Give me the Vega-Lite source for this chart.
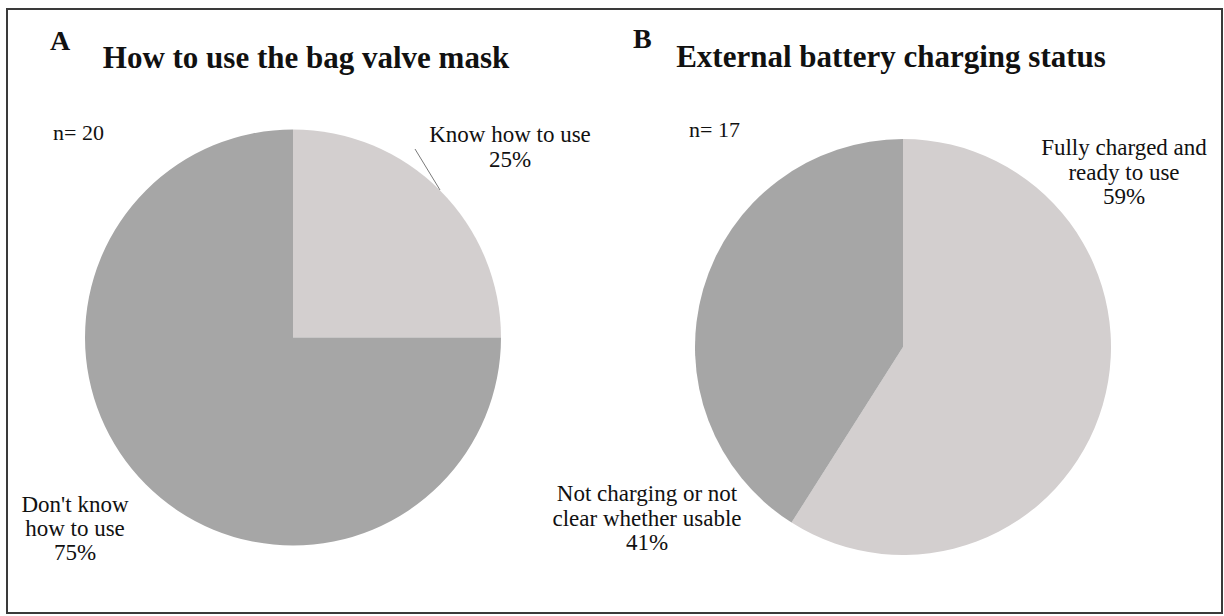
{
  "$schema": "https://vega.github.io/schema/vega-lite/v6.json",
  "width": 1224,
  "height": 616,
  "autosize": {"type": "fit", "contains": "padding"},
  "padding": {"left": 7, "top": 9, "right": 2, "bottom": 3},
  "background": "white",
  "config": {
    "view": {"stroke": "#3a3a3a", "strokeWidth": 2},
    "text": {"font": "Liberation Serif", "color": "#111111", "baseline": "alphabetic"}
  },
  "layer": [
    {
      "data": {"values": [
        {"panel": "A", "category": "Know how to use", "pct": 25, "ord": 1},
        {"panel": "A", "category": "Don't know how to use", "pct": 75, "ord": 2},
        {"panel": "B", "category": "Fully charged and ready to use", "pct": 59, "ord": 1},
        {"panel": "B", "category": "Not charging or not clear whether usable", "pct": 41, "ord": 2}
      ]},
      "transform": [
        {"stack": "pct", "groupby": ["panel"], "sort": [{"field": "ord", "order": "ascending"}], "as": ["t0", "t1"]}
      ],
      "mark": {"type": "arc", "radius": 208, "stroke": null},
      "encoding": {
        "x": {"field": "panel", "type": "nominal", "axis": null, "scale": {"type": "point", "domain": ["A", "B"], "range": [286, 896], "padding": 0}},
        "y": {"field": "panel", "type": "nominal", "axis": null, "scale": {"type": "point", "domain": ["A", "B"], "range": [328.5, 338], "padding": 0}},
        "theta": {"field": "t0", "type": "quantitative", "scale": {"domain": [0, 100]}},
        "theta2": {"field": "t1"},
        "color": {
          "field": "category", "type": "nominal", "legend": null,
          "scale": {
            "domain": ["Know how to use", "Don't know how to use", "Fully charged and ready to use", "Not charging or not clear whether usable"],
            "range": ["#d3cfcf", "#a6a6a6", "#d3cfcf", "#a6a6a6"]
          }
        }
      }
    },
    {
      "data": {"values": [{"panel": "A"}]},
      "mark": {"type": "rule", "color": "#7a7a7a", "strokeWidth": 1, "xOffset": 122, "yOffset": -188.5, "x2Offset": 147, "y2Offset": -147.5},
      "encoding": {
        "x": {"field": "panel", "type": "nominal", "axis": null},
        "y": {"field": "panel", "type": "nominal", "axis": null},
        "x2": {"field": "panel"},
        "y2": {"field": "panel"}
      }
    },
    {
      "data": {"values": [{"panel": "A", "label": "A"}]},
      "mark": {"type": "text", "align": "left", "fontWeight": "bold", "fontSize": 28, "dx": -243, "dy": -287.5},
      "encoding": {"x": {"field": "panel", "type": "nominal", "axis": null}, "y": {"field": "panel", "type": "nominal", "axis": null}, "text": {"field": "label"}}
    },
    {
      "data": {"values": [{"panel": "B", "label": "B"}]},
      "mark": {"type": "text", "align": "left", "fontWeight": "bold", "fontSize": 28, "dx": -270, "dy": -299},
      "encoding": {"x": {"field": "panel", "type": "nominal", "axis": null}, "y": {"field": "panel", "type": "nominal", "axis": null}, "text": {"field": "label"}}
    },
    {
      "data": {"values": [{"panel": "A", "label": "How to use the bag valve mask"}]},
      "mark": {"type": "text", "align": "center", "fontWeight": "bold", "fontSize": 31, "dx": 13, "dy": -269.5},
      "encoding": {"x": {"field": "panel", "type": "nominal", "axis": null}, "y": {"field": "panel", "type": "nominal", "axis": null}, "text": {"field": "label"}}
    },
    {
      "data": {"values": [{"panel": "B", "label": "External battery charging status"}]},
      "mark": {"type": "text", "align": "center", "fontWeight": "bold", "fontSize": 31, "dx": -12, "dy": -280},
      "encoding": {"x": {"field": "panel", "type": "nominal", "axis": null}, "y": {"field": "panel", "type": "nominal", "axis": null}, "text": {"field": "label"}}
    },
    {
      "data": {"values": [{"panel": "A", "label": "n= 20"}]},
      "mark": {"type": "text", "align": "left", "fontSize": 22, "dx": -240, "dy": -197.5},
      "encoding": {"x": {"field": "panel", "type": "nominal", "axis": null}, "y": {"field": "panel", "type": "nominal", "axis": null}, "text": {"field": "label"}}
    },
    {
      "data": {"values": [{"panel": "B", "label": "n= 17"}]},
      "mark": {"type": "text", "align": "left", "fontSize": 22, "dx": -214, "dy": -210},
      "encoding": {"x": {"field": "panel", "type": "nominal", "axis": null}, "y": {"field": "panel", "type": "nominal", "axis": null}, "text": {"field": "label"}}
    },
    {
      "data": {"values": [{"panel": "A", "label": ["Know how to use", "25%"]}]},
      "mark": {"type": "text", "align": "center", "fontSize": 23, "lineHeight": 25, "dx": 217, "dy": -195.5},
      "encoding": {"x": {"field": "panel", "type": "nominal", "axis": null}, "y": {"field": "panel", "type": "nominal", "axis": null}, "text": {"field": "label"}}
    },
    {
      "data": {"values": [{"panel": "A", "label": ["Don't know", "how to use", "75%"]}]},
      "mark": {"type": "text", "align": "center", "fontSize": 23, "lineHeight": 24, "dx": -218, "dy": 174},
      "encoding": {"x": {"field": "panel", "type": "nominal", "axis": null}, "y": {"field": "panel", "type": "nominal", "axis": null}, "text": {"field": "label"}}
    },
    {
      "data": {"values": [{"panel": "B", "label": ["Fully charged and", "ready to use", "59%"]}]},
      "mark": {"type": "text", "align": "center", "fontSize": 23, "lineHeight": 24.5, "dx": 221, "dy": -192},
      "encoding": {"x": {"field": "panel", "type": "nominal", "axis": null}, "y": {"field": "panel", "type": "nominal", "axis": null}, "text": {"field": "label"}}
    },
    {
      "data": {"values": [{"panel": "B", "label": ["Not charging or not", "clear whether usable", "41%"]}]},
      "mark": {"type": "text", "align": "center", "fontSize": 23, "lineHeight": 24.5, "dx": -256, "dy": 154},
      "encoding": {"x": {"field": "panel", "type": "nominal", "axis": null}, "y": {"field": "panel", "type": "nominal", "axis": null}, "text": {"field": "label"}}
    }
  ]
}
